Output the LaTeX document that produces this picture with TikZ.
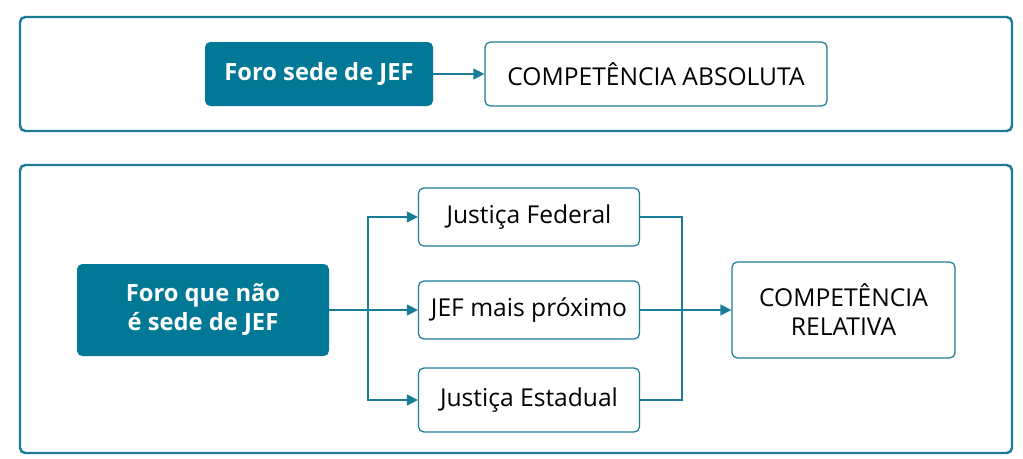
\documentclass[tikz,border=0pt]{standalone}
\usepackage{fontspec}
\setmainfont{Open Sans}
\usetikzlibrary{arrows.meta, positioning}
\definecolor{petrol}{HTML}{007896}
\definecolor{petrolline}{HTML}{1B7C98}
\tikzset{
  frame/.style={rectangle, rounded corners=3pt, draw=petrolline, line width=1.4pt},
  darkbox/.style={rectangle, rounded corners=3pt, fill=petrol, text=white,
    align=center, font=\fontsize{13.5}{16.5}\selectfont\bfseries, inner sep=0pt},
  lightbox/.style={rectangle, rounded corners=3pt, draw=petrolline, line width=0.7pt,
    fill=white, align=center, font=\fontsize{14}{16.5}\selectfont, inner sep=0pt},
  link/.style={-{Triangle[length=2.2mm, width=2.2mm]}, line width=0.7pt, petrolline},
  plain/.style={line width=0.7pt, petrolline},
}
\begin{document}
\begin{tikzpicture}
\useasboundingbox (0,0) rectangle (20.46,-9.18);
\draw[frame] (0.4,-0.34) rectangle (20.24,-2.62);
\draw[frame] (0.4,-3.3) rectangle (20.24,-9.06);
\node[darkbox, minimum width=4.56cm, minimum height=1.28cm] (sede) at (6.38,-1.48) {Foro sede de JEF};
\node[lightbox, minimum width=6.84cm, minimum height=1.28cm] (absoluta) at (13.12,-1.48) {COMPETÊNCIA ABSOLUTA};
\draw[link] (sede) -- (absoluta);
\node[darkbox, minimum width=5.04cm, minimum height=1.84cm] (naosede) at (4.06,-6.2) {Foro que não\\é sede de JEF};
\node[lightbox, minimum width=4.42cm, minimum height=1.16cm] (federal) at (10.58,-4.34) {Justiça Federal};
\node[lightbox, minimum width=4.42cm, minimum height=1.16cm] (proximo) at (10.58,-6.2) {JEF mais próximo};
\node[lightbox, minimum width=4.42cm, minimum height=1.28cm] (estadual) at (10.58,-8.0) {Justiça Estadual};
\node[lightbox, minimum width=4.46cm, minimum height=1.92cm] (relativa) at (16.87,-6.2) {COMPETÊNCIA\\RELATIVA};
\coordinate (split) at (7.36,-6.2);
\coordinate (join) at (13.64,-6.2);
\draw[plain] (naosede) -- (split);
\draw[link] (split) |- (federal);
\draw[link] (split) -- (proximo);
\draw[link] (split) |- (estadual);
\draw[plain] (federal) -| (join);
\draw[plain] (estadual) -| (join);
\draw[link] (proximo) -- (relativa);
\end{tikzpicture}
\end{document}
